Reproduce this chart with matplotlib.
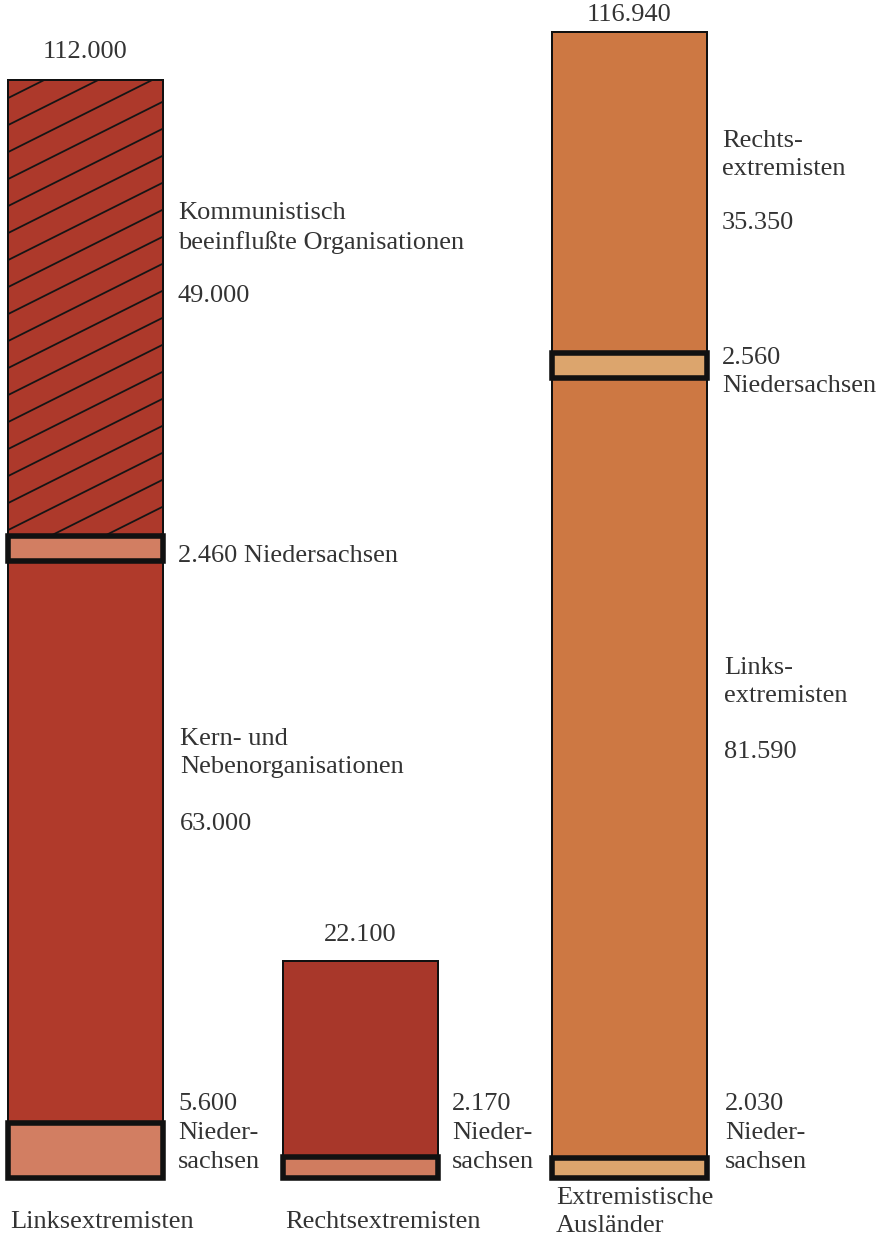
import numpy as np
import matplotlib.pyplot as plt
from matplotlib.patches import Rectangle

plt.rcParams['font.family'] = ['Liberation Serif', 'DejaVu Serif']

# --- data -------------------------------------------------------------
groups = ["Linksextremisten", "Rechtsextremisten", "Extremistische\nAusländer"]
totals = [112000, 22100, 116940]
# segments from bottom to top for each bar
seg_names = [["Kern- und\nNebenorganisationen", "Kommunistisch\nbeeinflußte Organisationen"],
             [None],
             ["Links-\nextremisten", "Rechts-\nextremisten"]]
seg_values = [[63000, 49000], [22100], [81590, 35350]]
nds_values = [[5600, 2460], [2170], [2030, 2560]]   # davon Niedersachsen
seg_hatched = [[False, True], [False], [False, False]]

# --- layout / style ---------------------------------------------------
W, H = 886, 1243
bar_left = [8, 283, 552]
bar_w = 155
y0_px, px_per_k = 1178, 9.8           # pixel row of zero, pixels per 1000
seg_colors = [['#b03a2b', '#ad392b'], ['#a8372a'], ['#cd7843', '#cd7843']]
nds_colors = [['#d27e62', '#d27e62'], ['#d07c5f'], ['#dca56d', '#dca56d']]
txt = '#333333'
fs = 19

def de(v):
    return f"{v:,}".replace(",", ".")

fig = plt.figure(figsize=(W / 100, H / 100), dpi=100)
fig.patch.set_facecolor('white')
ax = fig.add_axes([0, 0, 1, 1])
ax.set_xlim(0, W)
ax.set_ylim(-(H - y0_px) / px_per_k * 1000, y0_px / px_per_k * 1000)
ax.axis('off')

slope = 0.5 * 1000 / px_per_k          # hatch rises 1 px per 2 px
spacing = 27 * 1000 / px_per_k

for b in range(3):
    x0 = bar_left[b]
    bottom = 0
    for s, val in enumerate(seg_values[b]):
        nds = nds_values[b][s]
        rect = Rectangle((x0, bottom), bar_w, val, facecolor=seg_colors[b][s],
                         edgecolor='#111111', lw=1.4, zorder=2)
        ax.add_patch(rect)
        if seg_hatched[b][s]:
            xs = np.array([x0, x0 + bar_w])
            k0 = bottom - slope * bar_w
            for yy in np.arange(k0, bottom + val + spacing, spacing):
                ln, = ax.plot(xs, yy + slope * (xs - x0), color='#151515', lw=1.3, zorder=3)
                ln.set_clip_path(rect)
        ax.add_patch(Rectangle((x0, bottom), bar_w, nds, facecolor=nds_colors[b][s],
                               edgecolor='#111111', lw=4, zorder=4))
        bottom += val
    ax.add_patch(Rectangle((x0, 0), bar_w, totals[b], fill=False,
                           edgecolor='#111111', lw=1.4, zorder=5))

def put(x, y, s, ha='left'):
    fig.text(x / W, 1 - y / H, s, ha=ha, va='center', fontsize=fs, color=txt,
             linespacing=1.4)

# totals above bars
total_y = [52, 935, 15]
for b in range(3):
    put(bar_left[b] + bar_w / 2, total_y[b], de(totals[b]), ha='center')

# segment labels
put(178, 228, seg_names[0][1])
put(178, 296, de(seg_values[0][1]))
put(180, 753, seg_names[0][0])
put(180, 824, de(seg_values[0][0]))
put(722, 155, seg_names[2][1])
put(722, 223, de(seg_values[2][1]))
put(724, 682, seg_names[2][0])
put(724, 752, de(seg_values[2][0]))

# Niedersachsen labels
put(178, 556, de(nds_values[0][1]) + " Niedersachsen")
put(178, 1133, de(nds_values[0][0]) + "\nNieder-\nsachsen")
put(452, 1133, de(nds_values[1][0]) + "\nNieder-\nsachsen")
put(722, 372, de(nds_values[2][1]) + "\nNiedersachsen")
put(725, 1133, de(nds_values[2][0]) + "\nNieder-\nsachsen")

# category labels
put(10, 1222, groups[0])
put(285, 1222, groups[1])
put(556, 1212, groups[2])

fig.savefig('out.png', dpi=100, facecolor='white')
